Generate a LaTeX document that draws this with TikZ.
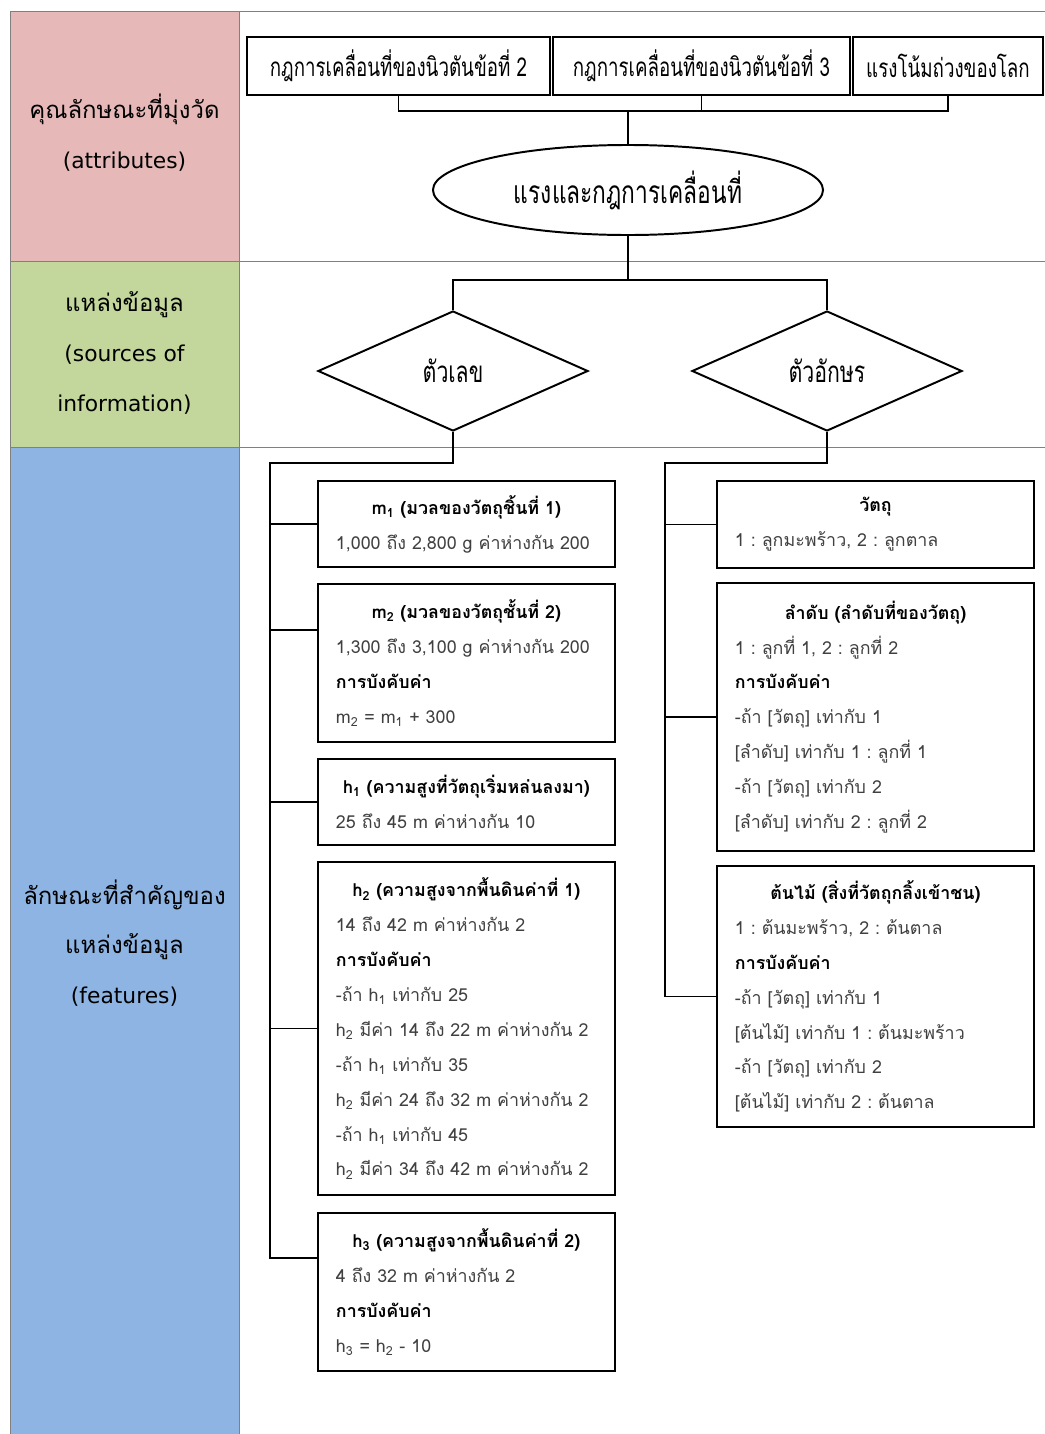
\documentclass[tikz,border=0pt]{standalone}
\usepackage{fontspec}
\setmainfont[Script=Thai]{Loma}
\newfontfamily\narrowfont[Script=Thai,FakeStretch=0.72]{Loma}
\newfontfamily\latinfont{DejaVu Sans}
\usetikzlibrary{shapes.geometric}

\definecolor{attrpink}{HTML}{E6B9B8}
\definecolor{srcgreen}{HTML}{C3D69B}
\definecolor{featblue}{HTML}{8EB4E3}
\definecolor{framegray}{HTML}{808080}
\definecolor{bodytext}{HTML}{404040}

\newcommand{\boxtitle}[1]{\makebox[\linewidth]{\bfseries\color{black}#1}}
\newcommand{\rulehead}{{\bfseries\color{black}การบังคับค่า}}
\newcommand{\engline}[1]{{\latinfont\fontsize{15.5}{35.4}\selectfont #1}}
\frenchspacing

\tikzset{
  rowlabel/.style={align=center, font=\fontsize{17}{35.4}\selectfont},
  topbox/.style={draw, line width=1.4pt, minimum height=1.45cm, inner sep=0pt,
    font=\narrowfont\fontsize{18.5}{22}\selectfont},
  databox/.style={draw, line width=1.4pt, inner xsep=0.45cm, align=left,
    font=\fontsize{12.7}{24.8}\selectfont, text=bodytext},
  leftbox/.style={databox, text width=6.525cm},
  rightbox/.style={databox, text width=7.025cm},
  link/.style={line width=1.4pt}
}

\begin{document}
\begin{tikzpicture}[x=0.025cm, y=-0.025cm]
  \useasboundingbox (0,0) rectangle (1045,1434);

  % row headings on the left
  \filldraw[fill=attrpink, draw=framegray] (10,11) rectangle (239,261);
  \filldraw[fill=srcgreen, draw=framegray] (10,261) rectangle (239,447);
  \filldraw[fill=featblue, draw=framegray] (10,447) rectangle (239,1434);
  \draw[framegray] (239,11) -- (1045,11);
  \draw[framegray] (239,261) -- (1045,261);
  \draw[framegray] (239,447) -- (1045,447);

  \node[rowlabel] (attr) at (124.5,133) {คุณลักษณะที่มุ่งวัด\\\engline{(attributes)}};
  \node[rowlabel] (src) at (124.5,353) {แหล่งข้อมูล\\\engline{(sources of}\\\engline{information)}};
  \node[rowlabel] (feat) at (124.5,943) {ลักษณะที่สำคัญของ\\แหล่งข้อมูล\\\engline{(features)}};

  % attributes
  \node[topbox, minimum width=7.575cm] (law2) at (398.5,66) {กฎการเคลื่อนที่ของนิวตันข้อที่ 2};
  \node[topbox, minimum width=7.425cm] (law3) at (701.5,66) {กฎการเคลื่อนที่ของนิวตันข้อที่ 3};
  \node[topbox, minimum width=4.75cm] (gravity) at (948,66) {แรงโน้มถ่วงของโลก};

  \node[draw, ellipse, line width=1.4pt, minimum width=9.75cm, minimum height=2.25cm,
    font=\narrowfont\fontsize{22.5}{25}\selectfont] (force) at (628,190) {แรงและกฎการเคลื่อนที่};

  \coordinate (join) at (628,111);
  \draw[link] (law2.south) |- (join) -| (gravity.south);
  \draw[link] (law3.south) -- (law3.south |- join);
  \draw[link] (join) -- (force.north);

  % sources of information
  \node[draw, diamond, line width=1.4pt, minimum width=6.75cm, minimum height=3cm, inner sep=0pt,
    font=\narrowfont\fontsize{21}{24}\selectfont] (numsrc) at (453,371) {ตัวเลข};
  \node[draw, diamond, line width=1.4pt, minimum width=6.75cm, minimum height=3cm, inner sep=0pt,
    font=\narrowfont\fontsize{21}{24}\selectfont] (charsrc) at (827,371) {ตัวอักษร};

  \coordinate (split) at (628,280);
  \draw[link] (force.south) -- (split);
  \draw[link] (numsrc.north) |- (split) -| (charsrc.north);

  % features of the numbers
  \node[leftbox, minimum height=2.15cm] (m1) at (466.5,524) {%
    \boxtitle{m\textsubscript{1} (มวลของวัตถุชิ้นที่ 1)}\\
    1,000 ถึง 2,800 g ค่าห่างกัน 200};
  \node[leftbox, minimum height=3.95cm] (m2) at (466.5,663) {%
    \boxtitle{m\textsubscript{2} (มวลของวัตถุชั้นที่ 2)}\\
    1,300 ถึง 3,100 g ค่าห่างกัน 200\\
    \rulehead\\
    m\textsubscript{2} = m\textsubscript{1} + 300};
  \node[leftbox, minimum height=2.15cm] (h1) at (466.5,802) {%
    \boxtitle{h\textsubscript{1} (ความสูงที่วัตถุเริ่มหล่นลงมา)}\\
    25 ถึง 45 m ค่าห่างกัน 10};
  \node[leftbox, minimum height=8.325cm] (h2) at (466.5,1028.5) {%
    \boxtitle{h\textsubscript{2} (ความสูงจากพื้นดินค่าที่ 1)}\\
    14 ถึง 42 m ค่าห่างกัน 2\\
    \rulehead\\
    -ถ้า h\textsubscript{1} เท่ากับ 25\\
    h\textsubscript{2} มีค่า 14 ถึง 22 m ค่าห่างกัน 2\\
    -ถ้า h\textsubscript{1} เท่ากับ 35\\
    h\textsubscript{2} มีค่า 24 ถึง 32 m ค่าห่างกัน 2\\
    -ถ้า h\textsubscript{1} เท่ากับ 45\\
    h\textsubscript{2} มีค่า 34 ถึง 42 m ค่าห่างกัน 2};
  \node[leftbox, minimum height=3.95cm] (h3) at (466.5,1292) {%
    \boxtitle{h\textsubscript{3} (ความสูงจากพื้นดินค่าที่ 2)}\\
    4 ถึง 32 m ค่าห่างกัน 2\\
    \rulehead\\
    h\textsubscript{3} = h\textsubscript{2} - 10};

  \coordinate (trunkL) at (270,463);
  \draw[link] (numsrc.south) |- (trunkL) |- ([yshift=0.85cm]h3.west);
  \foreach \b in {m1, h1, h2}
    \draw[link] (trunkL |- \b.west) -- (\b.west);
  \draw[link] (trunkL |- 0,630) -- (m2.west |- 0,630);

  % features of the letters
  \node[rightbox, minimum height=2.175cm] (obj) at (875.5,524.5) {%
    \boxtitle{วัตถุ}\\
    1 : ลูกมะพร้าว, 2 : ลูกตาล};
  \node[rightbox, minimum height=6.7cm] (order) at (875.5,717) {%
    \boxtitle{ลำดับ (ลำดับที่ของวัตถุ)}\\
    1 : ลูกที่ 1, 2 : ลูกที่ 2\\
    \rulehead\\
    -ถ้า {[}วัตถุ{]} เท่ากับ 1\\
    {[}ลำดับ{]} เท่ากับ 1 : ลูกที่ 1\\
    -ถ้า {[}วัตถุ{]} เท่ากับ 2\\
    {[}ลำดับ{]} เท่ากับ 2 : ลูกที่ 2};
  \node[rightbox, minimum height=6.525cm] (tree) at (875.5,996.5) {%
    \boxtitle{ต้นไม้ (สิ่งที่วัตถุกลิ้งเข้าชน)}\\
    1 : ต้นมะพร้าว, 2 : ต้นตาล\\
    \rulehead\\
    -ถ้า {[}วัตถุ{]} เท่ากับ 1\\
    {[}ต้นไม้{]} เท่ากับ 1 : ต้นมะพร้าว\\
    -ถ้า {[}วัตถุ{]} เท่ากับ 2\\
    {[}ต้นไม้{]} เท่ากับ 2 : ต้นตาล};

  \coordinate (trunkR) at (665,463);
  \draw[link] (charsrc.south) |- (trunkR) |- (tree.west);
  \foreach \b in {obj, order}
    \draw[link] (trunkR |- \b.west) -- (\b.west);
\end{tikzpicture}
\end{document}
